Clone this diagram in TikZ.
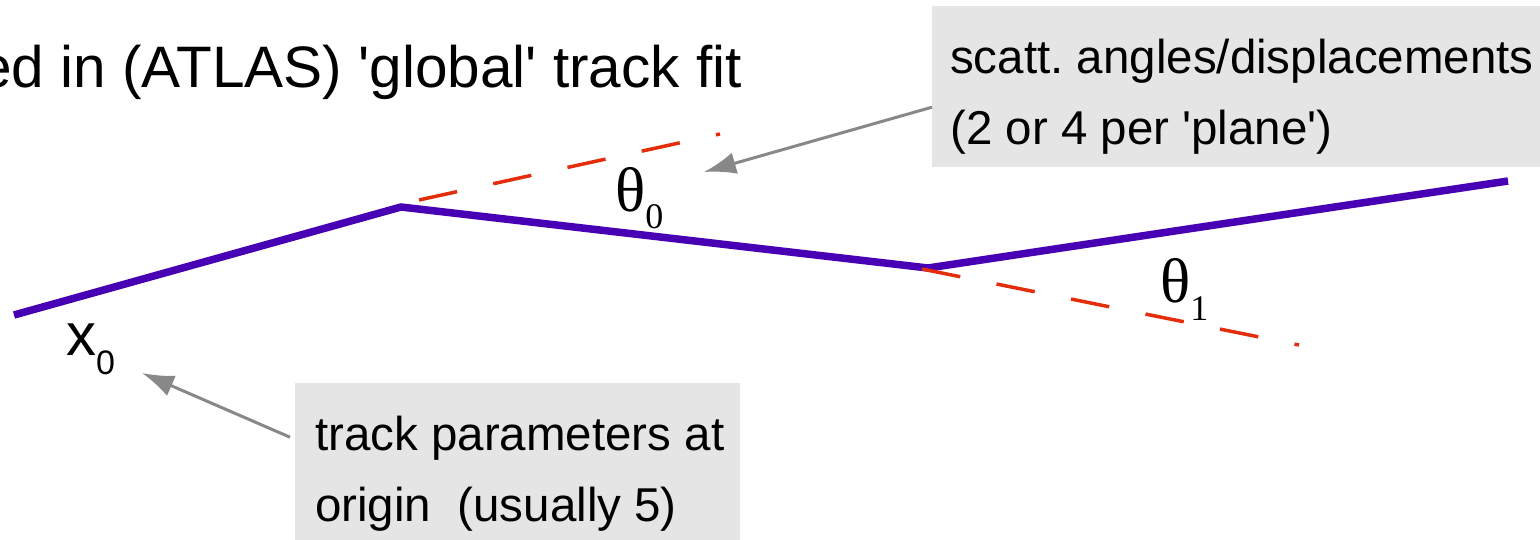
\documentclass[tikz,border=0pt]{standalone}
\usepackage{fontspec}
\setmainfont{Liberation Sans}
\newfontfamily\thetafont{Liberation Serif}
\usetikzlibrary{arrows.meta}
\definecolor{trackpurple}{RGB}{72,0,180}
\definecolor{dashred}{RGB}{228,45,10}
\definecolor{boxgray}{RGB}{229,229,229}
\definecolor{arrowgray}{RGB}{136,136,136}
\frenchspacing
\tikzset{
  track/.style={draw=trackpurple, line width=7.5pt},
  extrap/.style={draw=dashred, line width=3.5pt, dash pattern=on 39pt off 37pt},
  note/.style={fill=boxgray, draw=none, inner sep=0pt, anchor=north west},
  notetext/.style={anchor=base west, inner sep=0pt, align=left, font=\fontsize{47.5}{71}\selectfont},
  pointer/.style={draw=arrowgray, line width=3pt, -{Latex[length=32pt,width=22pt]}},
  sym/.style={anchor=base west, inner sep=0pt},
}
\begin{document}
\begin{tikzpicture}[x=1pt,y=-1pt]
\useasboundingbox (0,0) rectangle (1540,539);
\clip (0,0) rectangle (1540,539);
% boxes
\node[note, minimum width=620pt, minimum height=161pt] (b1) at (932,6) {};
\node[notetext] (t1) at (950,144) {scatt. angles/displacements\\(2 or 4 per \textquotesingle plane\textquotesingle)};
\node[note, minimum width=445pt, minimum height=170pt] (b2) at (295,383) {};
\node[notetext] (t2) at (315,521) {track parameters at\\origin\ \ (usually 5)};
% title
\node[anchor=base west, inner sep=0pt, font=\fontsize{58.5}{70}\selectfont] (title) at (-21,87) {ed in (ATLAS) \textquotesingle global\textquotesingle\ track fit};
% track
\coordinate (p0) at (14,315);
\coordinate (k1) at (401,207);
\coordinate (k2) at (928,268);
\coordinate (p3) at (1508,181);
\draw[track] (p0) -- (k1) -- (k2) -- (p3);
% extrapolations
\coordinate (d0s) at (419,200);
\coordinate (d0e) at (720,134);
\draw[extrap] (d0s) -- (d0e);
\coordinate (d1s) at (922,269);
\coordinate (d1e) at (1299,345);
\draw[extrap] (d1s) -- (d1e);
% labels
\node[sym, font=\thetafont\fontsize{63}{70}\selectfont] (th0) at (615,211) {θ\raisebox{-17pt}{\fontsize{36}{36}\selectfont 0}};
\node[sym, font=\thetafont\fontsize{63}{70}\selectfont] (th1) at (1160,302) {θ\raisebox{-18pt}{\fontsize{36}{36}\selectfont 1}};
\node[sym, font=\fontsize{60}{70}\selectfont] (x0) at (66,355) {x\raisebox{-19pt}{\fontsize{34}{34}\selectfont 0}};
% pointers
\coordinate (tip0) at (704,172);
\draw[pointer] ([yshift=-20.5pt]b1.west) -- (tip0);
\coordinate (tip1) at (142,373);
\draw[pointer] ([xshift=-5pt,yshift=31pt]b2.west) -- (tip1);
\end{tikzpicture}
\end{document}
